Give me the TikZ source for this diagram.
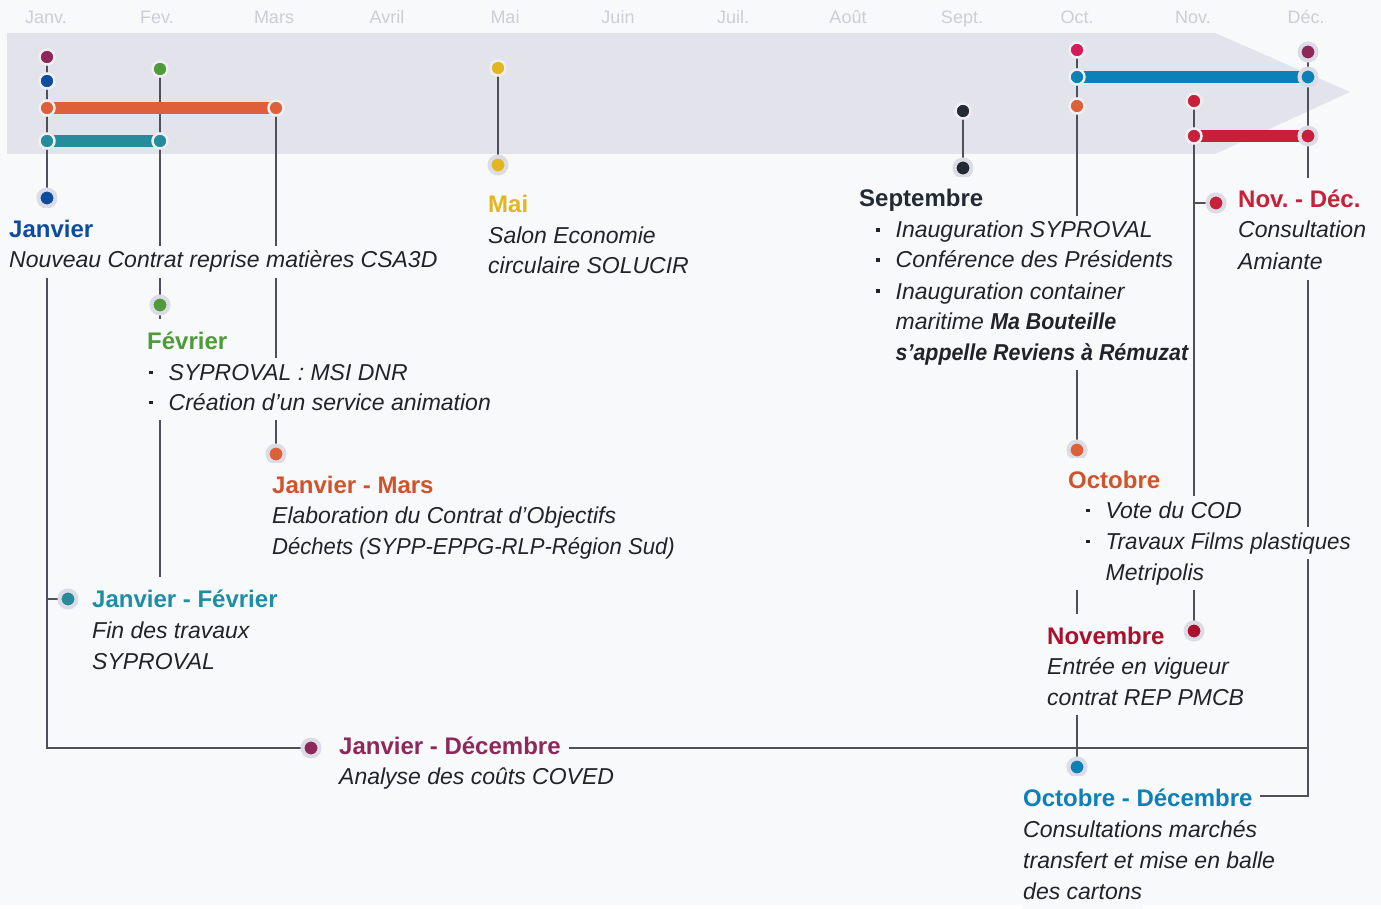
\documentclass[tikz,border=0pt]{standalone}
\usepackage{graphicx}
\usepackage{fontspec}
\setmainfont{Liberation Sans}
\frenchspacing
\definecolor{bgc}{RGB}{248,249,251}
\definecolor{bandc}{RGB}{227,227,235}
\definecolor{bandring}{RGB}{238,238,243}
\definecolor{ringc}{RGB}{220,220,230}
\definecolor{monthc}{RGB}{205,205,216}
\definecolor{linec}{RGB}{80,80,90}
\definecolor{txtc}{RGB}{34,34,40}
\definecolor{blueJ}{RGB}{14,76,158}
\definecolor{greenF}{RGB}{79,154,58}
\definecolor{orangeD}{RGB}{222,96,58}
\definecolor{orangeH}{RGB}{209,83,44}
\definecolor{tealD}{RGB}{38,140,155}
\definecolor{tealH}{RGB}{30,142,165}
\definecolor{purpleD}{RGB}{142,40,90}
\definecolor{yellowD}{RGB}{226,182,30}
\definecolor{darkD}{RGB}{35,42,52}
\definecolor{pinkD}{RGB}{214,27,92}
\definecolor{blueO}{RGB}{12,128,185}
\definecolor{redD}{RGB}{200,32,58}
\definecolor{darkred}{RGB}{168,18,46}
\pgfdeclarelayer{back}
\pgfdeclarelayer{lines}
\pgfdeclarelayer{bars}
\pgfsetlayers{back,lines,bars,main}
\newcommand{\mybul}{\makebox[19.5pt][l]{\raisebox{6pt}{\rule{3.5pt}{3.5pt}}}}
\newcommand{\myind}{\hspace*{19.5pt}}
\tikzset{
  month/.style={anchor=base, text=monthc, font=\fontsize{18}{20}\selectfont},
  dotb/.style={circle, inner sep=0pt, minimum size=15pt, draw=bandring, line width=2.5pt, fill=#1},
  rdot/.style={circle, inner sep=0pt, minimum size=17pt, draw=ringc, line width=4pt, fill=#1},
  conn/.style={draw=linec, line width=2pt},
  barline/.style={draw=#1, line width=12pt},
  hd/.style={anchor=base west, inner xsep=1pt, inner ysep=3pt, text height=27pt, text depth=7pt, fill=bgc, text=#1, font=\fontsize{24}{28}\selectfont\bfseries},
  tx/.style={anchor=base west, inner xsep=1pt, inner ysep=3pt, text height=19pt, text depth=7pt, fill=bgc, text=txtc, font=\fontsize{23}{27}\selectfont\itshape},
}
\begin{document}
\begin{tikzpicture}[x=1pt,y=-1pt]
\begin{pgfonlayer}{back}
\path[use as bounding box, fill=bgc] (0,0) rectangle (1381,905);
\fill[bandc] (7,33) -- (1215,33) -- (1350,92) -- (1215,154) -- (7,154) -- cycle;
\end{pgfonlayer}
% month labels
\foreach \x/\m [count=\i] in {46/Janv., 157/Fev., 274/Mars, 387/Avril, 505/Mai, 618/Juin, 733/Juil., 848/Août, 962/Sept., 1077/Oct., 1193/Nov., 1306/Déc.}
  \node[month] (m\i) at (\x,24) {\m};
% dots in the band
\node[dotb=purpleD] (jp) at (47,57) {};
\node[dotb=blueJ] (jb) at (47,81) {};
\node[dotb=orangeD] (jo) at (47,108) {};
\node[dotb=tealD] (jt) at (47,141) {};
\node[dotb=greenF] (fg) at (160,69) {};
\node[dotb=tealD] (ft) at (160,141) {};
\node[dotb=orangeD] (mo) at (276,108) {};
\node[dotb=yellowD] (my) at (498,68) {};
\node[dotb=darkD] (sd) at (963,111) {};
\node[dotb=pinkD] (op) at (1077,50) {};
\node[dotb=blueO] (ob) at (1077,77) {};
\node[dotb=orangeD] (oo) at (1077,106) {};
\node[dotb=redD] (nr1) at (1194,101) {};
\node[dotb=redD] (nr2) at (1194,136) {};
\node[rdot=purpleD] (dp) at (1308,52) {};
\node[rdot=blueO] (db) at (1308,77) {};
\node[rdot=redD] (dr) at (1308,136) {};
% ring dots below
\node[rdot=blueJ] (rJan) at (47,198) {};
\node[rdot=greenF] (rFev) at (160,305) {};
\node[rdot=orangeD] (rMars) at (276,454) {};
\node[rdot=yellowD] (rMai) at (498,165) {};
\node[rdot=darkD] (rSep) at (963,168) {};
\node[rdot=orangeD] (rOct) at (1077,450) {};
\node[rdot=darkred] (rNov) at (1194,631) {};
\node[rdot=redD] (rND) at (1216,203) {};
\node[rdot=tealD] (rJF) at (68,599) {};
\node[rdot=purpleD] (rJD) at (311,748) {};
\node[rdot=blueO] (rOD) at (1077,767) {};
% texts
\node[hd=blueJ] (hJan) at (8,238) {Janvier};
\node[tx] (tJan1) at (8,268) {Nouveau Contrat reprise matières CSA3D};
\node[hd=greenF] (hFev) at (146,349) {Février};
\node[tx] (tFev1) at (148,380) {\mybul SYPROVAL : MSI DNR};
\node[tx] (tFev2) at (148,410) {\mybul Création d’un service animation};
\node[hd=orangeH] (hJM) at (271,493) {Janvier - Mars};
\node[tx] (tJM1) at (271,523) {Elaboration du Contrat d’Objectifs};
\node[tx] (tJM2) at (271,554) {\scalebox{0.96}[1]{Déchets (SYPP-EPPG-RLP-Région Sud)}};
\node[hd=tealH] (hJF) at (91,607) {Janvier - Février};
\node[tx] (tJF1) at (91,638) {Fin des travaux};
\node[tx] (tJF2) at (91,669) {SYPROVAL};
\node[hd=purpleD] (hJD) at (338,754) {Janvier - Décembre};
\node[tx] (tJD1) at (338,784) {Analyse des coûts COVED};
\node[hd=yellowD] (hMai) at (487,213) {Mai};
\node[tx] (tMai1) at (487,244) {Salon Economie};
\node[tx] (tMai2) at (487,274) {circulaire SOLUCIR};
\node[hd=darkD] (hSep) at (858,207) {Septembre};
\node[tx] (tSep1) at (875,238) {\mybul Inauguration SYPROVAL};
\node[tx] (tSep2) at (875,268) {\mybul Conférence des Présidents};
\node[tx] (tSep3) at (875,299) {\mybul Inauguration container};
\node[tx] (tSep4) at (875,329) {\myind maritime \scalebox{0.93}[1]{\textbf{Ma Bouteille}}};
\node[tx] (tSep5) at (875,360) {\myind\scalebox{0.93}[1]{\textbf{s’appelle Reviens à Rémuzat}}};
\node[hd=redD] (hND) at (1237,208) {Nov. - Déc.};
\node[tx] (tND1) at (1237,238) {Consultation};
\node[tx] (tND2) at (1237,270) {Amiante};
\node[hd=orangeH] (hOct) at (1067,488) {Octobre};
\node[tx] (tOct1) at (1067,518) {\hspace*{18pt}\mybul Vote du COD};
\node[tx] (tOct2) at (1067,549) {\hspace*{18pt}\mybul \scalebox{0.97}[1]{Travaux Films plastiques}};
\node[tx] (tOct3) at (1067,580) {\hspace*{18pt}\myind Metripolis};
\node[hd=darkred] (hNov) at (1046,644) {Novembre};
\node[tx] (tNov1) at (1046,674) {Entrée en vigueur};
\node[tx] (tNov2) at (1046,705) {contrat REP PMCB};
\node[hd=blueO] (hOD) at (1022,806) {Octobre - Décembre};
\node[tx] (tOD1) at (1022,837) {Consultations marchés};
\node[tx] (tOD2) at (1022,868) {transfert et mise en balle};
\node[tx] (tOD3) at (1022,899) {des cartons};
% connectors
\begin{pgfonlayer}{lines}
\coordinate (cJD) at (47,748);
\coordinate (cOD) at (hOD.east -| dp);
\draw[conn] (jp.center) -- (cJD) -- (rJD.center);
\draw[conn] (rJF.center) -- (rJF -| jp);
\draw[conn] (fg.center) -- (rFev.center);
\draw[conn] (ft.center) -- (ft |- hJF.center);
\draw[conn] (mo.center) -- (rMars.center);
\draw[conn] (my.center) -- (rMai.center);
\draw[conn] (sd.center) -- (rSep.center);
\draw[conn] (op.center) -- (rOD.center);
\draw[conn] (nr1.center) -- (rNov.center);
\draw[conn] (rND.center) -- (rND -| nr1);
\draw[conn] (dp.center) -- (cOD) -- ([xshift=6pt]hOD.east);
\draw[conn] ([xshift=7pt]hJD.east |- rJD) -- (rJD -| dp);
\end{pgfonlayer}
% bars
\begin{pgfonlayer}{bars}
\draw[barline=orangeD] (jo.center) -- (mo.center);
\draw[barline=tealD] (jt.center) -- (ft.center);
\draw[barline=blueO] (ob.center) -- (db.center);
\draw[barline=redD] (nr2.center) -- (dr.center);
\end{pgfonlayer}
\end{tikzpicture}
\end{document}
